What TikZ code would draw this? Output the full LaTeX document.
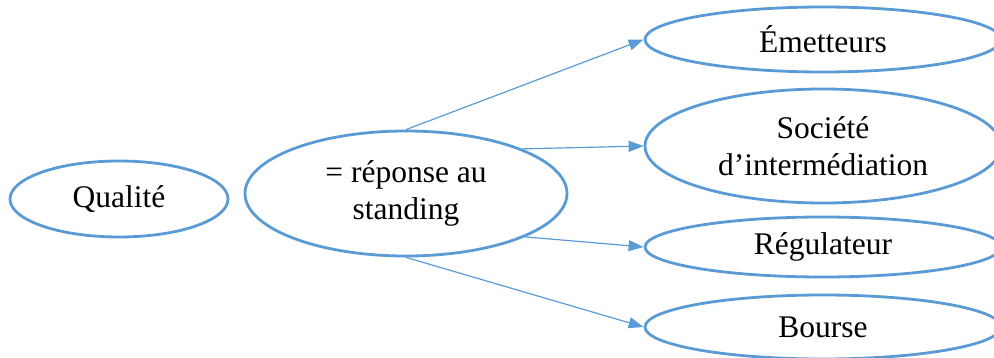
\documentclass[tikz,border=0pt]{standalone}
\usepackage{fontspec}
\setmainfont{Liberation Serif}
\usetikzlibrary{shapes.geometric,arrows.meta}
\definecolor{officeblue}{RGB}{91,155,213}
\begin{document}
\begin{tikzpicture}[x=1pt,y=-1pt,
  oval/.style={ellipse,draw=officeblue,line width=2.8pt,inner sep=0pt,align=center,
    font=\fontsize{31.5}{37}\selectfont},
  conn/.style={draw=officeblue,line width=1.2pt,-{Triangle[length=15pt,width=11pt]}}]
\useasboundingbox (0,0) rectangle (994,358);
\clip (0,0) rectangle (994,358);
\node[oval,minimum width=218pt,minimum height=76pt] (qual) at (119,199) {Qualité};
\node[oval,minimum width=322pt,minimum height=125pt] (rep) at (406,193.5) {= réponse au\\standing};
\node[oval,minimum width=356pt,minimum height=65pt] (em) at (823,39.5) {Émetteurs};
\node[oval,minimum width=356pt,minimum height=114pt] (soc) at (823,146) {Société\\d’intermédiation};
\node[oval,minimum width=356pt,minimum height=60pt] (reg) at (823,247) {Régulateur};
\node[oval,minimum width=356pt,minimum height=64pt] (bo) at (823,327) {Bourse};
\draw[conn] (rep.north) -- (em.west);
\draw[conn] (rep.21) -- (soc.west);
\draw[conn] (rep.-20) -- (reg.west);
\draw[conn] (rep.south) -- (bo.west);
\end{tikzpicture}
\end{document}
